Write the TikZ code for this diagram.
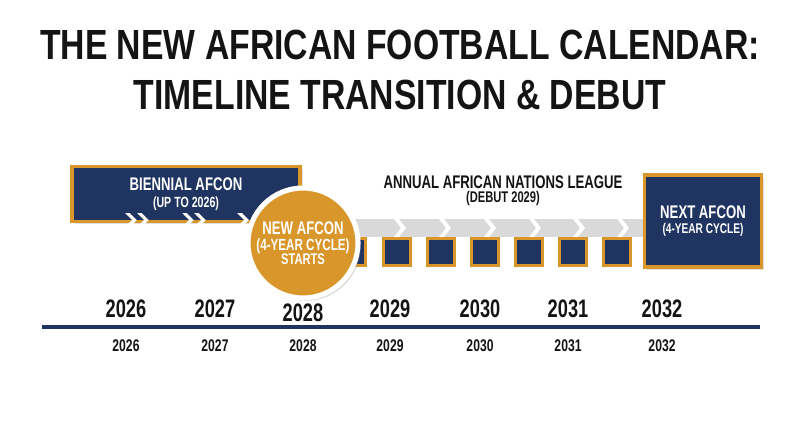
\documentclass[tikz,border=0pt]{standalone}
\usepackage{fontspec}
\setmainfont{Liberation Sans}[FakeStretch=0.72]
\newfontfamily\titlefont{Liberation Sans}[FakeStretch=0.8]
\usetikzlibrary{positioning,shadows,calc}
\definecolor{navy}{HTML}{1F3461}
\definecolor{gold}{HTML}{D9962B}
\definecolor{band}{HTML}{D9D9D9}
\definecolor{ink}{HTML}{141414}
\begin{document}
\begin{tikzpicture}[x=0.025cm,y=-0.025cm,font=\bfseries,
    bigbox/.style={draw=gold,fill=navy,line width=2.6pt,text=white,align=center,
      inner sep=0pt,drop shadow={opacity=0.25,shadow xshift=2pt,shadow yshift=-2pt}},
    sq/.style={draw=gold,fill=navy,line width=2.2pt,minimum size=0.66cm,inner sep=0pt,
      drop shadow={opacity=0.2,shadow xshift=1pt,shadow yshift=-1pt}},
    startdisc/.style={circle,draw=white,fill=gold,line width=3.6pt,minimum size=2.75cm,
      text=white,align=center,inner sep=0pt,drop shadow={opacity=0.3,shadow xshift=2pt,shadow yshift=-2pt}},
    chev/.pic={\fill[white] (-5,-6) -- (-1,-6) -- (5,0) -- (-1,6) -- (-5,6) -- (1,0) -- cycle;},
    bandchev/.pic={\fill[white] (-6,-9) -- (-1,-9) -- (6,0) -- (-1,9) -- (-6,9) -- (1,0) -- cycle;}]
  \useasboundingbox (0,0) rectangle (800,447);
  \node[ink,font=\titlefont\bfseries\fontsize{30}{36}\selectfont,align=center] (title) at (400,70)
    {THE NEW AFRICAN FOOTBALL CALENDAR:\\TIMELINE TRANSITION \& DEBUT};
  \node[fill=band,minimum width=8.9cm,minimum height=0.43cm,inner sep=0pt] (band) at (475,228) {};
  \foreach \xx in {400,445,490,535,579,623}
    \pic at (\xx,228) {bandchev};
  \node[sq] (sq0) at (352,252) {};
  \node[sq] (sq1) at (397,252) {};
  \node[sq] (sq2) at (441,252) {};
  \node[sq] (sq3) at (485,252) {};
  \node[sq] (sq4) at (529,252) {};
  \node[sq] (sq5) at (573,252) {};
  \node[sq] (sq6) at (617,252) {};
  \pic at ($(sq0)!0.5!(sq1)$) {chev};
  \pic at ($(sq1)!0.5!(sq2)$) {chev};
  \pic at ($(sq2)!0.5!(sq3)$) {chev};
  \pic at ($(sq3)!0.5!(sq4)$) {chev};
  \pic at ($(sq4)!0.5!(sq5)$) {chev};
  \pic at ($(sq5)!0.5!(sq6)$) {chev};
  \node[bigbox,minimum width=5.7cm,minimum height=1.375cm] (biennial) at (186,194)
    {{\fontsize{13}{15}\selectfont BIENNIAL AFCON}\\[0pt]{\fontsize{10.5}{12}\selectfont (UP TO 2026)}};
  \pic[scale=1.15] at (131,220) {chev};
  \pic[scale=1.15] at (143,220) {chev};
  \pic[scale=1.15] at (188,220) {chev};
  \pic[scale=1.15] at (200,220) {chev};
  \pic[scale=1.15] at (243,220) {chev};
  \node[bigbox,minimum width=2.925cm,minimum height=2.3cm] (next) at (703,221)
    {{\fontsize{13}{15}\selectfont NEXT AFCON}\\[-1pt]{\fontsize{10}{12}\selectfont (4-YEAR CYCLE)}};
  \pic at ($(sq6.east)!0.5!(next.west |- sq6.east)$) {chev};
  \node[startdisc] (start) at (303,243)
    {{\fontsize{13}{15}\selectfont NEW AFCON}\\[-1pt]{\fontsize{11.5}{13}\selectfont (4-YEAR CYCLE)}\\[-2pt]{\fontsize{11}{13}\selectfont STARTS}};
  \node[ink,align=center] (league) at (503,191)
    {{\fontsize{13}{15}\selectfont ANNUAL AFRICAN NATIONS LEAGUE}\\[-2pt]{\fontsize{11}{13}\selectfont (DEBUT 2029)}};
  \coordinate (tl-start) at (42,327);
  \coordinate (tl-end) at (760,327);
  \draw[navy,line width=2.8pt] (tl-start) -- (tl-end);
  \foreach \yr/\xx/\yy in {2026/126/309,2027/215/309,2028/303/313,2029/390/309,2030/480/309,2031/568/309,2032/662/309}{
    \node[ink,font=\bfseries\fontsize{18}{20}\selectfont] (up\yr) at (\xx,\yy) {\yr};
    \node[ink,font=\bfseries\fontsize{12}{14}\selectfont] (lo\yr) at (\xx,346) {\yr};
  }
\end{tikzpicture}
\end{document}
